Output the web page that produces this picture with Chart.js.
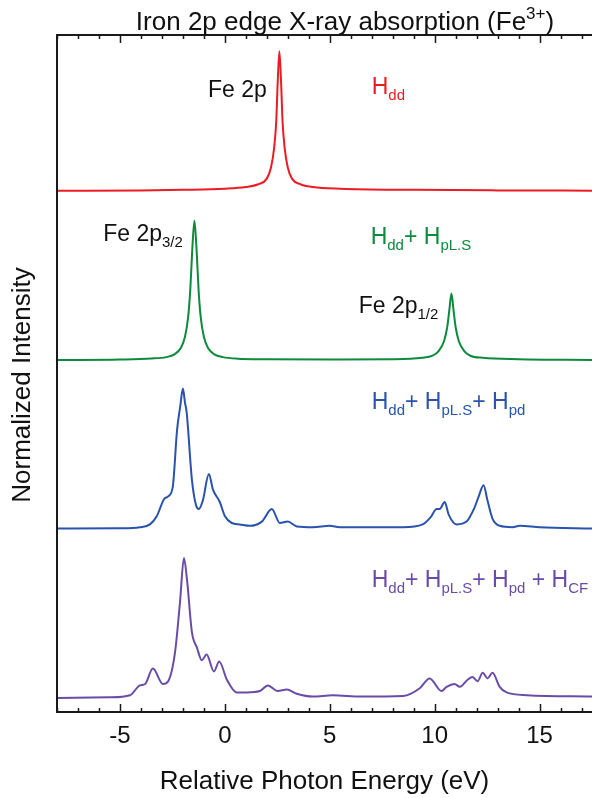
<!DOCTYPE html>
<html>
<head>
<meta charset="utf-8">
<script src="https://cdn.jsdelivr.net/npm/chart.js@4.4.1/dist/chart.umd.min.js"></script>
<style>
  html, body { margin: 0; padding: 0; background: #fff; }
  #wrap { width: 592px; height: 798px; position: relative; }
</style>
</head>
<body>
<div id="wrap"><canvas id="xas" width="592" height="798"></canvas></div>
<script>
const FONT = '"Liberation Sans", Arial, Helvetica, sans-serif';

// spectra, each normalised to its main peak, stacked with an offset
const seriesNames = ["Hdd", "Hdd + HpL.S", "Hdd + HpL.S + Hpd", "Hdd + HpL.S + Hpd + HCF"];
const seriesColors = ["#ec1c24", "#0e8a3c", "#2a53ac", "#6a4ca8"];
const seriesOffsets = [3.72, 2.51, 1.31, 0.1];

const eRed = [-8, -4, -2, 0, 1, 1.6, 2.0, 2.2, 2.35, 2.45, 2.52, 2.6, 2.68, 2.75, 2.85, 3.0, 3.2, 3.6, 4.2, 5.5, 9, 13, 17.5];
const iRed = [0.003, 0.006, 0.01, 0.018, 0.03, 0.05, 0.09, 0.17, 0.31, 0.5, 0.78, 1.0, 0.78, 0.5, 0.31, 0.17, 0.09, 0.05, 0.03, 0.018, 0.01, 0.006, 0.004];

const eGreen = [-8, -5, -3.5, -2.8, -2.4, -2.1, -1.9, -1.75, -1.65, -1.55, -1.45, -1.35, -1.25, -1.15, -1.0, -0.8, -0.5, -0.1, 0.6, 2, 5, 8, 9.4, 9.9, 10.2, 10.45, 10.6, 10.7, 10.8, 10.9, 11.0, 11.15, 11.4, 11.7, 12.3, 14, 17.5];
const iGreen = [0.004, 0.008, 0.015, 0.025, 0.045, 0.09, 0.17, 0.31, 0.5, 0.8, 1.0, 0.8, 0.5, 0.31, 0.17, 0.09, 0.045, 0.025, 0.014, 0.01, 0.008, 0.01, 0.02, 0.035, 0.07, 0.14, 0.24, 0.36, 0.48, 0.36, 0.24, 0.14, 0.07, 0.035, 0.02, 0.01, 0.005];

const eBlue = [-8, -5, -4.05, -3.57, -3.24, -2.9, -2.7, -2.48, -2.28, -2.12, -2.0, -1.9, -1.82, -1.57, -1.38, -1.24, -1.05, -0.76, -0.57, -0.24, 0, 0.33, 0.71, 1.19, 1.76, 2.24, 2.62, 3.0, 3.43, 4.2, 5.0, 5.48, 7, 8.5, 9.43, 9.8, 10.1, 10.24, 10.48, 10.67, 11.05, 11.52, 11.9, 12.1, 12.33, 12.52, 12.76, 13.1, 13.71, 14.05, 15, 17.5];
const iBlue = [0, 0.002, 0.01, 0.03, 0.09, 0.21, 0.23, 0.3, 0.7, 0.88, 1.0, 0.9, 0.83, 0.35, 0.17, 0.14, 0.2, 0.39, 0.28, 0.19, 0.09, 0.04, 0.03, 0.02, 0.05, 0.14, 0.04, 0.05, 0.015, 0.01, 0.02, 0.01, 0.01, 0.01, 0.03, 0.08, 0.14, 0.14, 0.19, 0.1, 0.03, 0.05, 0.15, 0.23, 0.31, 0.2, 0.07, 0.02, 0.01, 0.02, 0.01, 0.0];

const ePurple = [-8, -5.5, -4.52, -4.05, -3.8, -3.43, -2.95, -2.7, -2.38, -2.14, -1.95, -1.8, -1.57, -1.33, -1.1, -0.87, -0.52, -0.27, 0.1, 0.57, 1.05, 1.67, 2.05, 2.52, 2.95, 3.43, 4.2, 5.14, 6.5, 8.5, 9.29, 9.76, 10.33, 10.57, 10.95, 11.2, 11.57, 11.8, 12.05, 12.29, 12.52, 12.76, 13.1, 13.43, 14.4, 17.5];
const iPurple = [0, 0.005, 0.02, 0.09, 0.1, 0.21, 0.1, 0.12, 0.32, 0.68, 1.0, 0.84, 0.47, 0.36, 0.27, 0.31, 0.19, 0.26, 0.13, 0.04, 0.04, 0.05, 0.09, 0.05, 0.06, 0.03, 0.01, 0.02, 0.01, 0.015, 0.07, 0.14, 0.05, 0.08, 0.1, 0.08, 0.13, 0.15, 0.12, 0.18, 0.14, 0.18, 0.08, 0.04, 0.02, 0.01];

const tickValues = [-5, 0, 5, 10, 15];
const xMin = -8, xMax = 17.5;
const yMin = 0, yMax = 4.836;

// text on the plot: [text, 0 normal | -1 subscript | 1 superscript]
const annotations = [
  { x: -0.8, y: 4.393, color: "#111", parts: [["Fe 2p", 0]] },
  { x: 7.0, y: 4.414, color: seriesColors[0], parts: [["H", 0], ["dd", -1]] },
  { x: -5.8, y: 3.364, color: "#111", parts: [["Fe 2p", 0], ["3/2", -1]] },
  { x: 6.95, y: 3.343, color: seriesColors[1], parts: [["H", 0], ["dd", -1], ["+ H", 0], ["pL.S", -1]] },
  { x: 6.38, y: 2.85, color: "#111", parts: [["Fe 2p", 0], ["1/2", -1]] },
  { x: 7.0, y: 2.164, color: seriesColors[2], parts: [["H", 0], ["dd", -1], ["+ H", 0], ["pL.S", -1], ["+ H", 0], ["pd", -1]] },
  { x: 7.0, y: 0.893, color: seriesColors[3], parts: [["H", 0], ["dd", -1], ["+ H", 0], ["pL.S", -1], ["+ H", 0], ["pd", -1], [" + H", 0], ["CF", -1]] },
];

function toPoints(xs, ys, off) {
  return xs.map((x, i) => ({ x: x, y: ys[i] + off }));
}

function drawRich(ctx, x, y, parts, size, color, center) {
  const small = Math.round(size * 0.64);
  let total = 0;
  parts.forEach(([t, m]) => {
    ctx.font = (m === 0 ? size : small) + "px " + FONT;
    total += ctx.measureText(t).width;
  });
  let cx = center ? x - total / 2 : x;
  ctx.fillStyle = color;
  ctx.textAlign = "left";
  ctx.textBaseline = "alphabetic";
  parts.forEach(([t, m]) => {
    ctx.font = (m === 0 ? size : small) + "px " + FONT;
    const dy = m === -1 ? size * 0.27 : m === 1 ? -size * 0.42 : 0;
    ctx.fillText(t, cx, y + dy);
    cx += ctx.measureText(t).width;
  });
}

const framePlugin = {
  id: "frame",
  afterDraw(chart) {
    const ctx = chart.ctx;
    const area = chart.chartArea;
    const xs = chart.scales.x;
    const ys = chart.scales.y;
    ctx.save();
    ctx.strokeStyle = "#1a1a1a";
    ctx.lineWidth = 2;
    ctx.beginPath();
    ctx.moveTo(area.right + 2, area.top);
    ctx.lineTo(area.left, area.top);
    ctx.lineTo(area.left, area.bottom);
    ctx.lineTo(area.right + 2, area.bottom);
    ctx.stroke();
    ctx.lineWidth = 1.5;
    for (let v = Math.ceil(xMin); v <= xMax; v++) {
      const px = Math.round(xs.getPixelForValue(v)) + 0.5;
      const len = v % 5 === 0 ? 8 : 4;
      ctx.beginPath();
      ctx.moveTo(px, area.top);
      ctx.lineTo(px, area.top + len);
      ctx.moveTo(px, area.bottom);
      ctx.lineTo(px, area.bottom - len);
      ctx.stroke();
    }
    annotations.forEach((a) => {
      drawRich(ctx, xs.getPixelForValue(a.x), ys.getPixelForValue(a.y), a.parts, 23, a.color, false);
    });
    // chart title with superscript charge
    drawRich(ctx, 345, 30, [["Iron 2p edge X-ray absorption (Fe", 0], ["3+", 1], [")", 0]], 26, "#111", true);
    // y axis title
    ctx.save();
    ctx.translate(23, 385);
    ctx.rotate(-Math.PI / 2);
    ctx.font = "26px " + FONT;
    ctx.fillStyle = "#111";
    ctx.textAlign = "center";
    ctx.textBaseline = "middle";
    ctx.fillText("Normalized Intensity", 0, 0);
    ctx.restore();
    ctx.restore();
  },
};

const datasets = [
  [eRed, iRed],
  [eGreen, iGreen],
  [eBlue, iBlue],
  [ePurple, iPurple],
].map(([xs, ys], k) => ({
  label: seriesNames[k],
  data: toPoints(xs, ys, seriesOffsets[k]),
  borderColor: seriesColors[k],
  borderWidth: 2,
  pointRadius: 0,
  fill: false,
  cubicInterpolationMode: "monotone",
}));

new Chart(document.getElementById("xas").getContext("2d"), {
  type: "line",
  data: { datasets: datasets },
  options: {
    responsive: false,
    animation: false,
    devicePixelRatio: 1,
    layout: { padding: { top: 35, right: 0, left: 0, bottom: 0 } },
    plugins: { legend: { display: false }, tooltip: { enabled: false }, title: { display: false } },
    scales: {
      x: {
        type: "linear",
        min: xMin,
        max: xMax,
        afterBuildTicks: (scale) => {
          scale.ticks = tickValues.map((v) => ({ value: v }));
        },
        afterFit: (scale) => {
          scale.height = 86;
        },
        grid: { display: false, drawTicks: false },
        border: { display: false },
        ticks: { color: "#111", font: { family: FONT, size: 24 }, padding: 10, maxRotation: 0 },
        title: {
          display: true,
          text: "Relative Photon Energy (eV)",
          color: "#111",
          font: { family: FONT, size: 26 },
          padding: { top: 0, bottom: 1 },
        },
      },
      y: {
        type: "linear",
        min: yMin,
        max: yMax,
        afterFit: (scale) => {
          scale.width = 57;
        },
        grid: { display: false, drawTicks: false },
        border: { display: false },
        ticks: { display: false },
        title: { display: false },
      },
    },
  },
  plugins: [framePlugin],
});
</script>
</body>
</html>
